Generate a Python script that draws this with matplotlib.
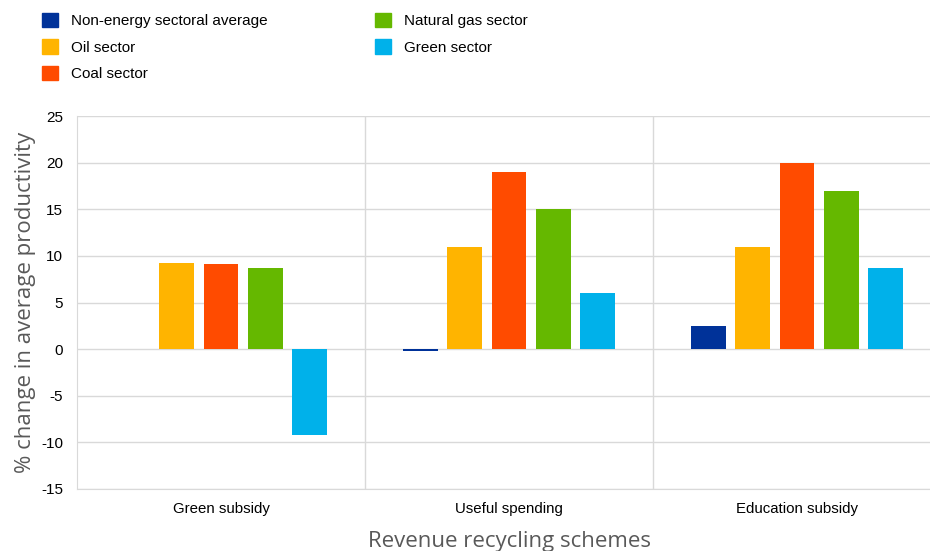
import numpy as np
import matplotlib.pyplot as plt
from matplotlib.patches import Patch

# data
schemes = ['Green subsidy', 'Useful spending', 'Education subsidy']
series = ['Non-energy sectoral average', 'Oil sector', 'Coal sector',
          'Natural gas sector', 'Green sector']
non_energy = [np.nan, -0.2, 2.5]
oil = [9.2, 11.0, 11.0]
coal = [9.1, 19.0, 20.0]
gas = [8.7, 15.0, 17.0]
green = [-9.2, 6.0, 8.7]
colors = ['#003299', '#FFB400', '#FF4B00', '#65B800', '#00B1EA']

values = [non_energy, oil, coal, gas, green]

plt.rcParams['font.family'] = ['Liberation Sans', 'DejaVu Sans']
plt.rcParams['axes.unicode_minus'] = False

fig = plt.figure(figsize=(9.3, 5.51), dpi=100)
# the plot area runs slightly past the right edge of the image, as in the original
ax = fig.add_axes([77/930, 1 - 489/551, (941 - 77)/930, (489 - 116)/551])

x = np.arange(len(schemes))
step = 0.1528
width = 0.1215
for i, (name, vals) in enumerate(zip(series, values)):
    ax.bar(x + (i - 2) * step, vals, width, color=colors[i], label=name,
           linewidth=0, zorder=3)

ax.set_ylim(-15, 25)
ax.set_yticks(range(-15, 26, 5))
ax.set_xlim(-0.5, 2.5)
ax.set_xticks(x)
ax.set_xticklabels(schemes, fontsize=10.8)
ax.tick_params(axis='y', labelsize=11, length=0, pad=10)
ax.tick_params(axis='x', length=0, pad=9)
ax.grid(axis='y', color='#d9d9d9', linewidth=1, zorder=0)
for b in [0.5, 1.5]:
    ax.axvline(b, color='#d9d9d9', linewidth=1, zorder=0)
for s in ['top', 'right']:
    ax.spines[s].set_visible(False)
for s in ['left', 'bottom']:
    ax.spines[s].set_color('#d9d9d9')

ax.set_ylabel('% change in average productivity', family=['Open Sans', 'DejaVu Sans'],
              fontsize=16, color='#595959', labelpad=4)
ax.set_xlabel('Revenue recycling schemes', family=['Open Sans', 'DejaVu Sans'],
              fontsize=16, color='#595959', labelpad=11)

handles = [Patch(color=c) for c in colors]
fig.legend(handles, series, loc='upper left', bbox_to_anchor=(36/930, 1 - 7/551),
           ncol=2, frameon=False, fontsize=11, handlelength=1.05, handleheight=1.05,
           handletextpad=0.85, columnspacing=7.0, labelspacing=0.72, borderaxespad=0)

fig.savefig('out.png', dpi=100)
